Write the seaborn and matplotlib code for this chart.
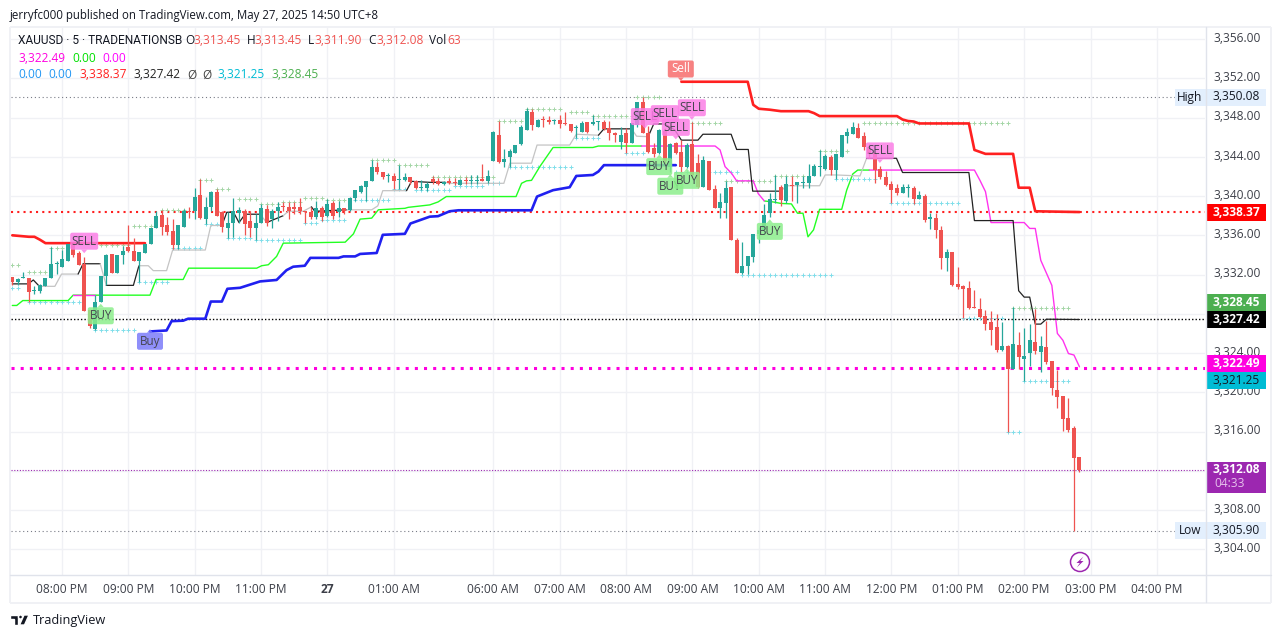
"""Recreate the XAUUSD 5 minute TradingView chart."""

import matplotlib
matplotlib.use('Agg')
import matplotlib.pyplot as plt
import numpy as np
import pandas as pd
import seaborn as sns
from matplotlib.patches import Circle, FancyBboxPatch, Polygon, Rectangle
from matplotlib.transforms import ScaledTranslation

open_ = [
    3331.8, 3331.2, 3331.7, 3331.6, 3330.3, 3330.3, 3330.8, 3331.6, 3333.1, 3332.75,
    3333.4, 3335.1, 3334.2, 3333.1, 3328.4, 3326.5, 3329.25, 3331.9, 3334.1, 3332.15,
    3334.0, 3334.8, 3334.45, 3333.35, 3334.2, 3335.1, 3336.75, 3338.1, 3337.1, 3336.4,
    3335.0, 3336.8, 3338.5, 3338.5, 3340.15, 3337.65, 3338.85, 3340.4, 3338.35, 3336.75,
    3337.3, 3338.25, 3338.5, 3337.5, 3336.75, 3337.3, 3338.7, 3337.65, 3338.45, 3339.0,
    3338.85, 3338.9, 3338.9, 3338.5, 3338.35, 3337.9, 3338.8, 3338.0, 3339.25, 3338.35,
    3338.8, 3338.55, 3339.8, 3340.45, 3340.9, 3341.5, 3343.0, 3342.5, 3342.05, 3342.05,
    3341.65, 3341.6, 3341.9, 3341.55, 3340.8, 3340.8, 3341.7, 3341.55, 3341.2, 3341.55,
    3341.4, 3341.1, 3341.65, 3341.55, 3341.55, 3341.7, 3341.5, 3343.6, 3346.2, 3343.5,
    3343.95, 3344.4, 3345.3, 3346.75, 3348.6, 3347.05, 3347.9, 3347.75, 3347.6, 3347.8,
    3347.35, 3347.35, 3346.95, 3346.55, 3347.55, 3347.3, 3347.55, 3347.55, 3346.9, 3346.4,
    3345.55, 3346.45, 3345.45, 3347.25, 3349.6, 3346.45, 3344.85, 3344.35, 3346.65, 3343.0,
    3345.45, 3344.5, 3343.0, 3345.3, 3343.35, 3340.95, 3343.55, 3340.7, 3338.8, 3339.3,
    3340.9, 3335.5, 3332.2, 3332.85, 3333.8, 3336.1, 3336.5, 3338.25, 3339.55, 3340.9,
    3339.5, 3341.1, 3341.1, 3341.35, 3341.35, 3342.0, 3342.95, 3342.8, 3344.0, 3342.7,
    3344.0, 3346.15, 3346.3, 3346.9, 3346.1, 3345.0, 3344.35, 3342.75, 3341.9, 3341.2,
    3340.85, 3340.35, 3340.8, 3340.85, 3339.7, 3340.0, 3337.65, 3337.8, 3336.55, 3333.7,
    3334.3, 3331.0, 3330.8, 3330.65, 3328.6, 3328.45, 3327.8, 3327.2, 3326.65, 3324.3,
    3324.7, 3322.4, 3324.8, 3323.4, 3324.0, 3325.15, 3324.1, 3324.6, 3323.15, 3320.2,
    3319.6, 3317.35, 3316.35, 3313.45,
]
high = [
    3331.8, 3331.65, 3332.3, 3331.6, 3330.8, 3331.05, 3331.7, 3334.8, 3333.35, 3334.5,
    3335.1, 3335.1, 3334.4, 3333.75, 3328.4, 3329.9, 3331.9, 3334.1, 3334.1, 3334.0,
    3334.95, 3337.0, 3335.7, 3334.3, 3335.1, 3336.75, 3338.5, 3338.6, 3337.85, 3337.65,
    3337.1, 3338.7, 3338.9, 3340.8, 3341.75, 3339.95, 3340.55, 3340.7, 3338.5, 3338.35,
    3339.8, 3338.9, 3338.65, 3338.45, 3338.2, 3339.2, 3339.1, 3338.7, 3339.35, 3339.35,
    3339.35, 3339.35, 3339.85, 3338.5, 3338.85, 3339.5, 3339.0, 3339.7, 3339.5, 3339.5,
    3338.8, 3339.95, 3340.6, 3341.15, 3341.55, 3343.7, 3343.5, 3342.5, 3342.4, 3342.4,
    3343.2, 3342.35, 3341.9, 3341.6, 3341.6, 3341.4, 3342.0, 3341.8, 3341.55, 3341.8,
    3341.8, 3341.75, 3341.9, 3342.15, 3342.1, 3343.25, 3342.65, 3346.6, 3347.7, 3344.75,
    3344.75, 3345.2, 3347.25, 3348.95, 3348.85, 3347.9, 3348.2, 3348.2, 3347.9, 3348.25,
    3348.6, 3347.35, 3347.25, 3347.7, 3347.55, 3348.25, 3347.6, 3347.75, 3347.6, 3346.55,
    3347.0, 3346.9, 3347.4, 3349.6, 3350.08, 3347.15, 3345.4, 3346.8, 3346.9, 3345.45,
    3345.55, 3345.7, 3345.4, 3347.5, 3344.3, 3344.1, 3343.55, 3341.1, 3340.35, 3341.5,
    3340.9, 3335.7, 3335.35, 3333.9, 3336.15, 3336.85, 3339.2, 3340.3, 3342.15, 3341.1,
    3342.05, 3342.0, 3341.45, 3342.0, 3343.25, 3343.25, 3344.7, 3344.3, 3344.2, 3344.3,
    3346.2, 3346.9, 3347.5, 3347.4, 3346.5, 3345.3, 3344.35, 3343.1, 3342.6, 3341.55,
    3341.2, 3341.2, 3341.2, 3341.0, 3340.5, 3340.25, 3338.25, 3338.25, 3336.95, 3334.6,
    3334.3, 3332.8, 3330.9, 3331.3, 3330.4, 3329.6, 3328.4, 3328.3, 3328.0, 3327.2,
    3324.8, 3328.7, 3326.15, 3326.6, 3327.0, 3328.45, 3325.7, 3327.3, 3323.15, 3322.3,
    3319.6, 3319.4, 3316.6, 3313.45,
]
low = [
    3330.9, 3330.9, 3331.6, 3329.2, 3330.0, 3330.1, 3330.8, 3331.6, 3332.05, 3332.75,
    3333.4, 3333.8, 3333.0, 3328.3, 3326.6, 3326.4, 3329.25, 3330.9, 3332.2, 3332.15,
    3333.1, 3334.3, 3333.4, 3331.2, 3334.2, 3335.1, 3336.75, 3336.0, 3336.0, 3334.6,
    3334.6, 3336.8, 3337.8, 3337.65, 3337.65, 3337.15, 3338.5, 3338.0, 3336.3, 3335.7,
    3335.8, 3337.3, 3336.0, 3335.8, 3335.5, 3337.3, 3336.9, 3336.75, 3337.5, 3338.5,
    3337.65, 3338.15, 3338.15, 3337.3, 3337.65, 3337.65, 3337.5, 3337.85, 3337.65, 3337.85,
    3338.15, 3338.5, 3339.5, 3340.35, 3339.5, 3341.5, 3342.25, 3341.75, 3341.4, 3340.7,
    3340.7, 3341.55, 3341.2, 3340.7, 3340.6, 3340.55, 3341.2, 3341.1, 3341.1, 3341.2,
    3341.1, 3341.1, 3341.2, 3341.2, 3341.2, 3341.5, 3341.3, 3343.6, 3343.4, 3343.0,
    3343.0, 3344.35, 3345.2, 3346.75, 3346.75, 3347.0, 3347.05, 3347.35, 3347.35, 3346.9,
    3347.25, 3346.5, 3345.9, 3346.55, 3346.4, 3347.25, 3346.75, 3346.75, 3345.7, 3345.55,
    3344.75, 3344.4, 3345.4, 3347.0, 3346.4, 3344.35, 3343.95, 3344.3, 3343.35, 3342.5,
    3344.3, 3342.5, 3342.9, 3341.7, 3340.8, 3340.9, 3340.6, 3338.8, 3337.8, 3337.8,
    3335.5, 3332.2, 3332.05, 3332.05, 3333.3, 3335.25, 3336.1, 3337.9, 3339.3, 3339.0,
    3339.25, 3339.5, 3339.3, 3340.8, 3340.8, 3342.0, 3342.0, 3342.7, 3342.15, 3341.7,
    3343.95, 3345.4, 3346.3, 3345.9, 3344.7, 3343.85, 3341.35, 3341.7, 3341.0, 3339.25,
    3340.1, 3340.3, 3339.9, 3339.2, 3339.7, 3337.4, 3336.6, 3335.75, 3332.55, 3332.4,
    3330.85, 3330.5, 3327.6, 3328.45, 3328.55, 3327.6, 3326.3, 3324.8, 3324.1, 3324.2,
    3316.0, 3322.4, 3322.4, 3321.15, 3322.7, 3323.9, 3322.05, 3322.9, 3319.7, 3318.45,
    3316.1, 3316.0, 3305.9, 3311.9,
]
close = [
    3331.2, 3331.5, 3331.75, 3330.2, 3330.45, 3330.9, 3331.65, 3333.1, 3333.2, 3333.6,
    3335.1, 3333.95, 3333.0, 3328.3, 3326.8, 3329.25, 3331.9, 3334.0, 3332.2, 3333.95,
    3334.4, 3334.35, 3333.4, 3334.25, 3335.1, 3336.75, 3338.0, 3336.8, 3336.3, 3335.0,
    3337.1, 3338.45, 3338.35, 3339.95, 3337.8, 3338.9, 3340.4, 3338.0, 3336.8, 3337.3,
    3338.45, 3338.55, 3337.15, 3336.75, 3337.3, 3338.8, 3337.3, 3338.45, 3338.9, 3338.9,
    3338.5, 3338.7, 3338.45, 3338.35, 3337.9, 3338.8, 3337.85, 3339.2, 3338.0, 3338.8,
    3338.5, 3339.85, 3340.6, 3341.0, 3341.55, 3343.0, 3342.5, 3341.9, 3342.15, 3341.55,
    3341.7, 3341.95, 3341.4, 3340.8, 3340.95, 3341.2, 3341.4, 3341.2, 3341.45, 3341.3,
    3341.3, 3341.6, 3341.5, 3341.65, 3341.65, 3341.5, 3342.0, 3346.55, 3343.5, 3343.75,
    3344.6, 3345.2, 3347.0, 3348.7, 3347.25, 3347.8, 3347.8, 3347.5, 3347.8, 3347.35,
    3347.3, 3346.65, 3347.05, 3347.4, 3346.55, 3347.55, 3347.6, 3346.8, 3346.4, 3346.2,
    3346.2, 3345.45, 3347.4, 3349.6, 3346.45, 3344.5, 3344.3, 3346.7, 3343.6, 3345.35,
    3344.4, 3343.0, 3345.2, 3342.15, 3340.9, 3343.65, 3340.6, 3338.8, 3339.4, 3340.8,
    3335.5, 3332.2, 3332.85, 3333.9, 3336.1, 3336.5, 3338.05, 3339.75, 3339.6, 3339.6,
    3341.2, 3341.0, 3341.45, 3341.45, 3342.05, 3343.05, 3343.05, 3344.1, 3342.7, 3344.3,
    3346.2, 3346.55, 3347.0, 3345.9, 3345.0, 3344.3, 3342.65, 3341.9, 3341.1, 3340.6,
    3340.35, 3340.9, 3340.85, 3339.65, 3340.1, 3337.55, 3337.9, 3336.55, 3333.65, 3334.3,
    3330.9, 3330.75, 3330.55, 3328.55, 3328.55, 3327.7, 3326.95, 3326.4, 3324.35, 3324.7,
    3322.4, 3324.9, 3323.55, 3323.65, 3325.3, 3324.2, 3324.7, 3323.1, 3320.45, 3319.55,
    3317.3, 3316.15, 3313.35, 3312.08,
]

# thick red resistance line, two runs
red_a_n = [0, 3, 4, 5, 6, 24]
red_a_p = [3336.0, 3335.85, 3335.85, 3335.55, 3335.2, 3335.2]
red_b_n = [121, 133, 134, 135, 137, 139, 144, 145, 146, 160, 161, 162, 163, 164, 173, 174, 175, 176, 181, 182, 184, 185, 193]
red_b_p = [3351.65, 3351.65, 3349.3, 3348.9, 3348.8, 3348.65, 3348.65, 3348.45, 3348.15, 3348.15,
           3347.8, 3347.65, 3347.6, 3347.4, 3347.4, 3344.7, 3344.5, 3344.3, 3344.3, 3340.85, 3340.85, 3338.45, 3338.37]

blue_n = [24.9, 27.9, 28.8, 30.9, 31.8, 34.9, 35.9, 37.9, 38.9, 41.2, 44.8, 47.8, 49.6, 50.8, 52.9, 53.9,
          59, 59.9, 62, 62.9, 65.9, 67, 71, 72, 75.5, 77, 79.1, 80.7, 93.9, 94.9, 97.8, 100.8, 102, 105, 106, 107, 120]
blue_p = [3326.2, 3326.3, 3327.25, 3327.3, 3327.5, 3327.5, 3329.25, 3329.25, 3330.55, 3330.65, 3331.3, 3331.45,
          3332.45, 3332.8, 3332.9, 3333.7, 3333.7, 3333.85, 3333.85, 3334.1, 3334.2, 3336.05, 3336.15, 3337.2, 3337.9,
          3337.95, 3338.45, 3338.55, 3338.55, 3339.95, 3340.6, 3340.9, 3342.05, 3342.15, 3342.5, 3343.15, 3343.15]

green_a_n = [0, 0.8, 1.9, 10.1, 11, 24.9, 26, 30.9, 31.9, 44.2, 45.1, 46.3, 47.8, 49, 60.2, 61.7, 62.9, 65, 66.2, 71, 71.6,
             75.5, 77, 78.5, 91.1, 92.1, 93, 93.9, 95.4, 97.8, 105, 106, 113.8]
green_a_p = [3328.85, 3328.85, 3329.35, 3329.35, 3329.9, 3329.9, 3331.5, 3331.5, 3332.65, 3332.65, 3332.9, 3333.0, 3333.85,
             3335.2, 3335.3, 3336.15, 3337.65, 3337.75, 3338.6, 3338.75, 3338.85, 3339.1, 3339.4, 3339.95, 3339.95, 3341.3,
             3341.55, 3341.6, 3343.0, 3344.95, 3344.95, 3345.1, 3345.1]
green_b_n = [136, 137.6, 139, 140.9, 142, 143, 143.9, 144.9, 146, 150, 150.9, 152, 152.9, 155]
green_b_p = [3339.5, 3339.4, 3339.25, 3339.2, 3338.25, 3338.25, 3335.85, 3336.55, 3338.65, 3338.65, 3340.6, 3342.25, 3342.65, 3342.65]

magenta_a_n = [11, 15]
magenta_a_p = [3329.9, 3329.9]
magenta_b_n = [113.8, 127.1, 128, 128.9, 130.1, 131, 134, 134.9, 136]
magenta_b_p = [3345.1, 3345.1, 3344.7, 3343.0, 3342.3, 3341.55, 3341.55, 3340.25, 3339.5]
magenta_c_n = [155, 174, 175, 176, 177, 181, 183, 184, 185, 186, 188, 189, 190, 191, 192, 193]
magenta_c_p = [3342.65, 3342.65, 3341.6, 3340.45, 3337.3, 3337.3, 3337.3, 3336.7, 3336.7, 3333.45, 3330.9, 3326.0, 3325.3, 3323.95, 3323.8, 3322.6]

# trailing line, is_black says which colour the run ending at that point has
trail_n = [0, 2.9, 3.8, 4.9, 7.7, 8.9, 11.9, 12.8, 15.9, 17, 21.9, 22.9, 24.6, 25.5, 27.9, 29, 34.9, 35.9, 37.9, 38.8, 40, 41, 42.1, 44.8,
           46, 49, 49.9, 52.6, 54.1, 54.7, 60.5, 65, 66.1, 67, 71.3, 72.2, 75.5, 78.3, 79.2, 88.9, 90, 93.9, 94.9, 100.8, 102, 106, 107,
           112, 112.9, 115, 116, 118, 119.8, 121, 124, 124.9, 130, 131, 133.1, 133.9, 139, 140, 146, 147, 149, 153.3, 154.5, 156,
           159.9, 161, 173, 174, 181, 182, 183, 184, 185, 186, 187, 193]
trail_p = [3331.05, 3331.05, 3331.45, 3330.8, 3330.8, 3332.05, 3332.05, 3333.1, 3333.1, 3330.9, 3330.9, 3332.9, 3332.9, 3332.4, 3332.4,
           3334.5, 3334.5, 3337.0, 3337.0, 3338.35, 3338.35, 3337.3, 3338.15, 3338.15, 3337.3, 3338.0, 3338.45, 3338.45, 3338.9, 3338.45,
           3338.6, 3338.6, 3339.0, 3340.55, 3340.55, 3341.5, 3341.4, 3341.4, 3341.3, 3341.3, 3343.35, 3343.35, 3345.2, 3345.2, 3346.3,
           3346.2, 3346.85, 3346.85, 3346.1, 3346.05, 3347.35, 3347.35, 3346.75, 3345.7, 3345.7, 3346.3, 3346.3, 3344.75, 3344.75, 3340.5,
           3340.5, 3341.05, 3341.05, 3342.15, 3342.15, 3342.05, 3343.85, 3343.85, 3343.85, 3342.4, 3342.4, 3337.5, 3337.5, 3330.35, 3329.7,
           3329.7, 3326.95, 3326.95, 3327.45, 3327.42]
trail_black = [1, 1, 1, 1, 0, 0, 0, 1, 1, 0, 1, 1, 0, 0, 0, 0, 0, 0, 0, 1, 1, 1, 1, 1,
               0, 1, 0, 0, 0, 1, 1, 0, 0, 0, 0, 1, 1, 1, 0, 0, 0, 0, 0, 0, 0, 0, 1,
               1, 0, 0, 1, 1, 1, 1, 1, 1, 1, 1, 1, 1, 1, 0, 0, 0, 0, 0, 0, 1,
               1, 1, 1, 1, 1, 1, 1, 1, 1, 1, 1, 1]

# rows of first bar, last bar, price for the "+" pivot marks
plus_up = [(0, 1, 3333.0), (3, 6, 3332.25), (7, 9, 3334.7), (16, 21, 3335.0), (22, 25, 3336.95), (27, 31, 3338.6),
           (34, 36, 3341.6), (37, 39, 3340.7), (41, 44, 3339.65), (45, 48, 3339.2), (49, 52, 3339.4), (53, 56, 3339.8),
           (57, 60, 3339.6), (65, 69, 3343.65), (70, 75, 3343.15), (76, 87, 3341.9), (88, 92, 3347.65), (93, 99, 3348.85),
           (101, 104, 3348.55), (105, 112, 3348.2), (113, 117, 3350.05), (123, 128, 3347.4), (129, 137, 3341.55),
           (138, 143, 3342.05), (146, 149, 3344.6), (151, 151, 3344.6), (154, 180, 3347.4), (181, 191, 3328.55)]
plus_down = [(0, 1, 3330.65), (3, 12, 3329.2), (15, 22, 3326.4), (23, 28, 3331.2), (29, 34, 3334.7), (35, 37, 3337.15),
             (39, 43, 3335.75), (44, 52, 3335.5), (53, 55, 3337.25), (56, 60, 3337.6), (62, 68, 3339.6), (69, 71, 3340.7),
             (73, 75, 3340.65), (76, 79, 3340.6), (80, 85, 3341.0), (86, 88, 3341.3), (90, 101, 3343.0), (102, 106, 3345.9),
             (111, 114, 3344.35), (120, 122, 3342.5), (126, 131, 3342.5), (132, 148, 3332.0), (149, 156, 3341.7),
             (159, 171, 3339.25), (172, 179, 3327.6), (180, 182, 3316.0), (183, 191, 3321.15)]

signal_text = ['SELL', 'BUY', 'Buy', 'BUY', 'BUY', 'BUY', 'SELL', 'SELL', 'SELL', 'SELL', 'BUY', 'SELL', 'Sell']
signal_n = [13, 16, 24.9, 117, 119, 122, 114.4, 118, 122.9, 120, 137, 156.9, 120.9]
signal_p = [3335.4, 3327.8, 3325.2, 3343.0, 3341.0, 3341.6, 3348.1, 3348.4, 3349.0, 3347.0, 3336.4, 3344.6, 3352.95]

hour_n = [9, 21, 33, 45, 57, 69, 87, 99, 111, 123, 135, 147, 159, 171, 183, 195, 207]
hour_labels = ['08:00 PM', '09:00 PM', '10:00 PM', '11:00 PM', '27', '01:00 AM', '06:00 AM', '07:00 AM', '08:00 AM',
               '09:00 AM', '10:00 AM', '11:00 AM', '12:00 PM', '01:00 PM', '02:00 PM', '03:00 PM', '04:00 PM']
price_ticks = [3304, 3308, 3312, 3316, 3320, 3324, 3328, 3332, 3336, 3340, 3344, 3348, 3352, 3356]
hidden_ticks = [3312, 3328]  # sit under the price tags

UP = '#26a69a'
DOWN = '#ef5350'
GRID = '#f0f1f5'
BORDER = '#e0e3eb'
TEXT = '#131722'
FONT = ['Open Sans', 'DejaVu Sans']


def draw_line(ax, ns, ps, color, lw, zorder=3):
    df = pd.DataFrame({'n': ns, 'p': ps})
    sns.lineplot(data=df, x='n', y='p', estimator=None, sort=False, color=color, linewidth=lw,
                 ax=ax, legend=False, zorder=zorder)


def draw_trail(ax):
    # split in runs of one colour
    start = 0
    for i in range(1, len(trail_n)):
        if i == len(trail_n) - 1 or trail_black[i + 1] != trail_black[i]:
            color = '#222222' if trail_black[i] else '#c4c4c4'
            draw_line(ax, trail_n[start:i + 1], trail_p[start:i + 1], color, 0.9)
            start = i


def draw_plus(ax, rows, color):
    ns, ps = [], []
    for first, last, price in rows:
        for n in range(first, last + 1):
            ns.append(n)
            ps.append(price)
    df = pd.DataFrame({'n': ns, 'p': ps})
    sns.scatterplot(data=df, x='n', y='p', marker='+', s=6, color=color, linewidth=0.7, ax=ax, legend=False, zorder=2)


def draw_candles(ax):
    df = pd.DataFrame({'open': open_, 'high': high, 'low': low, 'close': close})
    df['n'] = np.arange(len(df))
    colors = np.where(df['close'] >= df['open'], UP, DOWN)
    bottoms = df[['open', 'close']].min(axis=1)
    heights = (df['close'] - df['open']).abs().clip(lower=0.1)
    ax.vlines(df['n'], df['low'], df['high'], colors=colors, linewidth=0.9, zorder=4)
    ax.bar(df['n'], heights, bottom=bottoms, width=0.72, color=colors, linewidth=0, zorder=4)


def draw_signals(ax):
    # boxes are drawn in screen pixels around the data point
    styles = {'SELL': ('#fb7fe6', '#44444e', 28), 'BUY': ('#8cee8c', '#44444e', 26),
              'Buy': ('#7b7bfa', '#44444e', 26), 'Sell': ('#f76c6c', 'white', 26)}
    for k, (text, n, price) in enumerate(zip(signal_text, signal_n, signal_p)):
        face, ink, width = styles[text]
        cx, cy = ax.transData.transform((n, price))
        z = 6 + k * 0.01
        ax.add_patch(FancyBboxPatch((cx - width / 2 + 2, cy - 6.5), width - 4, 13, boxstyle='round,pad=2,rounding_size=2',
                                    transform=None, facecolor=face, edgecolor='none', alpha=0.85, zorder=z))
        # small pointer towards the bar
        tip = -12 if text in ('SELL', 'Sell') else 12
        ax.add_patch(Polygon([(cx - 3, cy + np.sign(tip) * 8.5), (cx + 3, cy + np.sign(tip) * 8.5), (cx, cy + tip)],
                             transform=None, facecolor=face, edgecolor='none', alpha=0.85, zorder=z))
        ax.text(n, price, text, ha='center', va='center', fontsize=8.4, color=ink, zorder=z, family=FONT)


def draw_overlay(fig):
    # pixel coordinates for the frame, the legend and the price tags
    ov = fig.add_axes([0, 0, 1, 1], zorder=10)
    ov.set_xlim(0, 1281)
    ov.set_ylim(638, 0)
    ov.axis('off')
    ov.patch.set_alpha(0)

    for x0, y0, x1, y1 in [(10, 26.5, 1271, 26.5), (10, 602.5, 1271, 602.5), (1271, 26.5, 1271, 602.5), (10, 26.5, 10, 602.5)]:
        ov.plot([x0, x1], [y0, y1], color=GRID, lw=1.4, solid_capstyle='butt')
    ov.plot([1205.5, 1205.5], [27, 602], color=BORDER, lw=1)
    ov.plot([10, 1271], [575, 575], color=BORDER, lw=1)

    ov.text(10, 15, 'jerryfc000 published on TradingView.com, May 27, 2025 14:50 UTC+8',
            fontsize=8.3, color=TEXT, va='center', family=FONT)

    ov.text(18, 41, 'XAUUSD · 5 · TRADENATIONSB', fontsize=8.6, color=TEXT, va='center', family=['Roboto', 'DejaVu Sans'])
    header = [
        (185, 41, 'O', TEXT), (193, 41, '3,313.45', DOWN),
        (247, 41, 'H', TEXT), (254, 41, '3,313.45', DOWN), (308, 41, 'L', TEXT), (314, 41, '3,311.90', DOWN),
        (368, 41, 'C', TEXT), (376, 41, '3,312.08', DOWN), (429, 41, 'Vol', TEXT), (447, 41, '63', DOWN),
        (18, 58, '3,322.49', '#ff00e0'), (72, 58, '0.00', '#00e000'), (102, 58, '0.00', '#ff00ff'),
        (18, 75, '0.00', '#2196f3'), (48, 75, '0.00', '#2196f3'), (79, 75, '3,338.37', '#ff2020'),
        (133, 75, '3,327.42', '#222222'), (187, 75, 'Ø', '#444444'), (202, 75, 'Ø', '#444444'),
        (217, 75, '3,321.25', '#00bcd4'), (271, 75, '3,328.45', '#4caf50'),
    ]
    for x, y, text, color in header:
        ov.text(x, y, text, fontsize=8.6, color=color, va='center', family=FONT)

    tags = [
        (204, 221, '3,338.37', '#ff0000', 'white'), (294, 311, '3,328.45', '#4caf50', 'white'),
        (311, 328, '3,327.42', '#000000', 'white'), (355, 372, '3,322.49', '#ff00e0', 'white'),
        (372, 389, '3,321.25', '#00bcd4', TEXT),
    ]
    for y0, y1, text, face, ink in tags:
        ov.add_patch(Rectangle((1206, y0), 60, y1 - y0, facecolor=face, edgecolor='none'))
        ov.text(1236, (y0 + y1) / 2, text, fontsize=8.6, color=ink, ha='center', va='center',
                family=FONT, fontweight='bold' if ink == 'white' else 'normal')

    ov.add_patch(Rectangle((1206, 462), 60, 31, facecolor='#9c27b0', edgecolor='none'))
    ov.text(1236, 469.5, '3,312.08', fontsize=8.6, color='white', ha='center', va='center', family=FONT, fontweight='bold')
    ov.text(1214, 483.5, '04:33', fontsize=8.6, color='#e6c3ec', ha='left', va='center', family=FONT)

    for y, side, value in [(97, 'High', '3,350.08'), (530.5, 'Low', '3,305.90')]:
        ov.add_patch(Rectangle((1175, y - 8.5), 91, 17, facecolor='#e3effd', edgecolor='none'))
        ov.text(1190, y, side, fontsize=8.6, color=TEXT, ha='center', va='center', family=FONT)
        ov.text(1236, y, value, fontsize=8.6, color=TEXT, ha='center', va='center', family=FONT)

    ov.add_patch(Circle((1080, 562), 9.5, facecolor='none', edgecolor='#9c27b0', lw=1.1))
    ov.add_patch(Polygon([(1083.5, 556.5), (1076.5, 563), (1079.8, 563), (1076.8, 567.5), (1083.5, 561), (1080.3, 561)],
                         facecolor='#9c27b0', edgecolor='none'))

    # footer logo
    ov.add_patch(Polygon([(10, 615), (18, 615), (18, 625), (14, 625), (14, 619), (10, 619)], facecolor=TEXT))
    ov.add_patch(Circle((20.5, 617), 2, facecolor=TEXT))
    ov.add_patch(Polygon([(24, 615), (29, 615), (24.5, 625), (19.5, 625)], facecolor=TEXT))
    ov.text(33, 620.5, 'TradingView', fontsize=9.2, color=TEXT, va='center', family=FONT)


def main():
    sns.set_theme(style='white')
    plt.rcParams['font.family'] = FONT

    fig = plt.figure(figsize=(12.81, 6.38), dpi=100, facecolor='white')
    # chart pane in pixels: x 11..1205, y 27..575
    ax = fig.add_axes([11 / 1281, (638 - 575) / 638, 1194 / 1281, 548 / 638])
    ax.set_xlim(-0.235, 215.7)
    ax.set_ylim(3301.38, 3357.23)

    ax.set_xticks(hour_n)
    ax.set_xticklabels(hour_labels)
    ax.set_yticks(price_ticks)
    ax.set_yticklabels(['' if p in hidden_ticks else f'{p:,.2f}' for p in price_ticks])
    ax.yaxis.tick_right()
    ax.grid(True, color=GRID, linewidth=1)
    ax.set_axisbelow(True)
    ax.tick_params(axis='both', length=0, labelsize=8.6, labelcolor='#3c3f48')
    ax.tick_params(axis='x', pad=6)
    ax.tick_params(axis='y', pad=6)
    lift = ScaledTranslation(0, 1.5 / 72, fig.dpi_scale_trans)
    for label in ax.get_yticklabels():
        label.set_transform(label.get_transform() + lift)
    for label in ax.get_xticklabels():
        if label.get_text() == '27':
            label.set_fontweight('bold')
    for spine in ax.spines.values():
        spine.set_visible(False)

    ax.axhline(3350.08, xmax=(1175 - 11) / 1194, color='#787b86', lw=0.8, ls=(0, (1, 2.5)), zorder=1)
    ax.axhline(3338.37, color='#ff2020', lw=1.5, ls=(0, (1, 2)), zorder=2)
    ax.axhline(3327.42, color='#000000', lw=1.0, ls=(0, (1, 1.5)), zorder=2)
    ax.axhline(3322.49, color='#ff00e0', lw=2.2, ls=(0, (1, 2)), zorder=2)
    ax.axhline(3312.08, color='#9c27b0', lw=0.8, ls=(0, (1, 1.5)), zorder=2)
    ax.axhline(3305.90, xmax=(1175 - 11) / 1194, color='#787b86', lw=0.8, ls=(0, (1, 2.5)), zorder=1)

    draw_plus(ax, plus_up, '#a5d6a7')
    draw_plus(ax, plus_down, '#80deea')
    draw_line(ax, green_a_n, green_a_p, '#22ff22', 1.0)
    draw_line(ax, green_b_n, green_b_p, '#22ff22', 1.0)
    draw_line(ax, magenta_a_n, magenta_a_p, '#ff33ee', 1.0)
    draw_line(ax, magenta_b_n, magenta_b_p, '#ff33ee', 1.0)
    draw_line(ax, magenta_c_n, magenta_c_p, '#ff33ee', 1.0)
    draw_trail(ax)
    draw_line(ax, blue_n, blue_p, '#2020f0', 1.9)
    draw_line(ax, red_a_n, red_a_p, '#ff2020', 1.9)
    draw_line(ax, red_b_n, red_b_p, '#ff2020', 1.9)
    draw_candles(ax)

    ax.set_xlabel('')
    ax.set_ylabel('')
    ax.set_xlim(-0.235, 215.7)
    ax.set_ylim(3301.38, 3357.23)
    draw_signals(ax)

    draw_overlay(fig)
    plt.savefig('out.png', dpi=100, facecolor='white')
    plt.close()


if __name__ == '__main__':
    main()
